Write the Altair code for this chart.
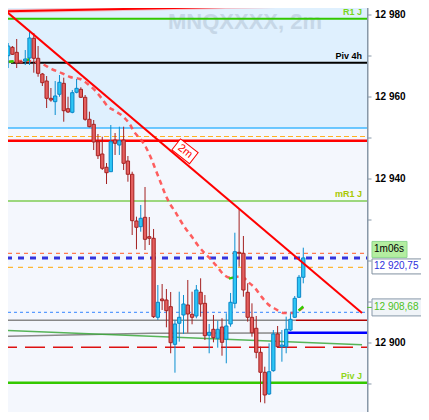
import altair as alt
import pandas as pd

# ---------------- data ----------------
opens = [12970.07, 12972.12, 12970.90, 12968.54, 12968.78, 12969.51, 12974.32, 12969.44, 12965.61, 12963.90,
         12959.68, 12958.86, 12960.66, 12963.34, 12957.15, 12956.27, 12961.15, 12961.88, 12959.93, 12954.56,
         12953.34, 12949.10, 12946.10, 12942.86, 12941.78, 12949.51, 12948.29, 12949.51, 12944.39, 12941.15,
         12929.76, 12928.37, 12930.66, 12925.93, 12925.54, 12906.27, 12910.73, 12910.49, 12908.86, 12899.68,
         12904.81, 12906.83, 12909.27, 12907.00, 12906.59, 12912.37, 12909.68, 12901.88, 12903.34, 12901.15,
         12903.90, 12900.90, 12904.64, 12909.68, 12922.12, 12921.88, 12912.37, 12906.27, 12903.59, 12897.73,
         12892.86, 12887.56, 12893.25, 12902.20, 12899.10, 12899.10, 12903.17, 12906.27, 12911.15, 12916.03]
closes = [12972.44, 12970.42, 12968.29, 12968.29, 12969.27, 12974.39, 12969.44, 12965.78, 12963.49, 12959.68,
          12959.27, 12960.25, 12963.59, 12956.66, 12956.34, 12961.05, 12962.12, 12959.93, 12954.56, 12952.76,
          12949.03, 12945.68, 12942.61, 12941.54, 12949.10, 12948.71, 12949.34, 12943.83, 12941.15, 12929.83,
          12928.22, 12930.42, 12925.29, 12925.54, 12906.42, 12909.93, 12910.32, 12907.88, 12900.07, 12904.64,
          12906.27, 12909.51, 12907.07, 12906.27, 12912.93, 12909.51, 12901.78, 12902.61, 12901.29, 12903.34,
          12900.17, 12904.15, 12909.93, 12922.27, 12921.88, 12912.93, 12906.27, 12902.51, 12897.73, 12892.86,
          12887.32, 12893.00, 12902.20, 12899.10, 12899.51, 12903.34, 12905.78, 12910.90, 12916.03, 12920.75]
highs = [12973.17, 12972.44, 12974.15, 12968.78, 12971.46, 12975.86, 12975.61, 12972.44, 12965.86, 12965.12,
         12962.20, 12963.90, 12965.37, 12964.71, 12960.07, 12961.71, 12964.39, 12962.37, 12960.49, 12956.42,
         12954.39, 12950.98, 12950.32, 12943.90, 12953.17, 12951.22, 12952.76, 12952.76, 12945.61, 12941.78,
         12930.81, 12933.66, 12938.05, 12930.73, 12927.81, 12914.15, 12914.39, 12913.17, 12912.44, 12905.61,
         12912.51, 12911.71, 12915.37, 12912.51, 12914.15, 12915.78, 12911.71, 12904.64, 12906.83, 12905.44,
         12906.03, 12907.25, 12912.20, 12926.90, 12932.61, 12926.10, 12914.56, 12909.68, 12906.59, 12899.10,
         12894.22, 12899.93, 12903.17, 12904.15, 12903.17, 12906.42, 12907.25, 12911.46, 12916.59, 12923.25]
lows = [12967.07, 12970.25, 12967.07, 12968.05, 12967.81, 12967.81, 12965.93, 12964.95, 12962.68, 12957.32,
        12958.86, 12955.61, 12960.07, 12953.98, 12956.10, 12956.03, 12960.90, 12959.76, 12954.22, 12952.61,
        12947.07, 12944.88, 12942.20, 12938.78, 12941.71, 12945.86, 12945.86, 12942.20, 12939.34, 12926.34,
        12922.86, 12927.15, 12922.68, 12923.90, 12906.10, 12905.61, 12908.05, 12903.83, 12897.49, 12892.76,
        12900.32, 12902.20, 12902.51, 12904.56, 12906.03, 12906.42, 12900.73, 12897.49, 12900.17, 12898.86,
        12896.90, 12895.05, 12903.98, 12908.46, 12918.61, 12911.29, 12905.20, 12901.54, 12896.27, 12885.54,
        12885.29, 12887.32, 12893.00, 12898.95, 12895.44, 12897.49, 12902.93, 12906.10, 12910.98, 12914.56]

# moving average (dashed curve), bar index / price
ma_x = [0, 4.3, 8, 10.2, 12.5, 14.5, 16.8, 18.6, 20.2, 21.8, 23.2, 25, 27, 28.4, 29.5, 31.1, 32.3, 33.4,
        34.5, 35.7, 36.8, 38, 39.1, 40.2, 41.4, 43, 44.3, 45.9, 47.5, 48.9, 50.5, 52.3, 54.5, 56.1, 57.7,
        59.1, 60.7, 62.5, 64.5, 66.4, 67.8, 69]
ma_y = [12968.54, 12968.78, 12968.05, 12966.83, 12965.85, 12964.88, 12964.39, 12963.17, 12961.71, 12959.76,
        12957.81, 12956.59, 12955.12, 12953.42, 12951.46, 12949.51, 12947.56, 12945.12, 12942.20, 12939.03,
        12936.10, 12933.66, 12931.95, 12930.00, 12928.05, 12925.85, 12923.90, 12921.95, 12920.25, 12918.54,
        12916.59, 12915.85, 12916.34, 12914.88, 12913.42, 12911.46, 12909.51, 12908.29, 12907.32, 12907.32,
        12907.80, 12908.68]
ma_green_x = [[0.2, 1.3], [3.9, 5.0], [51.6, 52.8], [67.9, 69.0]]
ma_green_y = [[12968.6, 12968.7], [12968.9, 12969.2], [12915.7, 12916.0], [12907.9, 12908.9]]

# drawn lines (bar index / price at both ends)
trend_x = [-0.68, 82.73]
trend_y = [12981.10, 12907.32]
red_top_x = [-0.68, 82.73]
red_top_y = [12980.90, 12982.61]
green_slant_x = [-0.68, 82.73]
green_slant_y = [12903.10, 12899.59]
gray_slant_x = [-0.68, 33.4, 63.9]
gray_slant_y = [12901.64, 12902.37, 12902.44]

# horizontal levels
level_values = [12982.76, 12979.10, 12968.37, 12952.44, 12950.37, 12949.34, 12934.64, 12921.88,
                12920.75, 12918.46, 12907.49, 12905.54, 12905.54, 12902.51, 12898.95, 12890.32]
label_texts = ["R1 J", "Piv 4h", "mR1 J", "Piv J"]
label_values = [12979.10, 12968.37, 12934.64, 12890.32]

# tick labels (12 920 is hidden behind the price badges in the reference)
axis_ticks = [12890, 12900, 12910, 12920, 12930, 12940, 12950, 12960, 12970, 12980]
axis_labels = ["", "12 900", "", "", "", "12 940", "", "12 960", "", "12 980"]
last_price = 12920.75
last_price_text = "12 920,75"
ma_last = 12908.68
ma_last_text = "12 908,68"
timer_text = "1m06s"
tag_text = "2m"
tag_price = 12946.76
watermark = "MNQXXXX, 2m"

# ---------------- chart ----------------
W, H = 359, 404
XS = alt.Scale(domain=[1.136, 82.727], nice=False, zero=False)
YS = alt.Scale(domain=[12883.17, 12981.71], nice=False, zero=False)
FONT = "Liberation Sans"


def xq(f):
    return alt.X(f, type="quantitative", scale=XS, axis=None)


def yq(f):
    return alt.Y(f, type="quantitative", scale=YS, axis=None)


one = pd.DataFrame({"k": [0]})
layers = []

# upper light-blue zone
layers.append(alt.Chart(pd.DataFrame({"p": [level_values[3]]})).mark_rect(color="#dff0fe").encode(
    x=alt.value(0), x2=alt.value(W), y=yq("p"), y2=alt.value(0)))

# watermark
layers.append(alt.Chart(one).mark_text(align="left", baseline="alphabetic", font=FONT,
                                       fontSize=22, fontWeight="bold", color="#c6d7e7").encode(
    x=alt.value(160), y=alt.value(21), text=alt.value(watermark)))

# horizontal level styles: color, width, dash, dash offset, x start, x end (pixels)
styles = [
    ("#ff0000", 2.5, None, 0, 0, W),
    ("#33c800", 2.0, None, 0, 0, W),
    ("#000000", 2.0, None, 0, 3, W),
    ("#40b8ff", 1.5, None, 0, 0, W),
    ("#ffb020", 1.2, [5, 3], 0, 0, W),
    ("#ff0000", 2.5, None, 0, 0, W),
    ("#44b800", 1.2, None, 0, 0, W),
    ("#ff7a50", 1.2, [4, 4], 0, 0, W),
    ("#3333dd", 3.0, [6, 6], 2, 0, W),
    ("#ffb733", 1.2, [5, 5], 0, 0, W),
    ("#5a9cff", 1.2, [3, 3], 0, 0, W),
    ("#888888", 1.5, None, 0, 0, 288),
    ("#b00000", 1.5, None, 0, 288, W),
    ("#0000ff", 2.5, None, 0, 276, W),
    ("#dd1111", 1.5, [20, 8], 11, 0, W),
    ("#33c800", 2.5, None, 0, 0, W),
]
for val, (col, sw, dash, off, a, b) in zip(level_values, styles):
    kw = dict(color=col, strokeWidth=sw, clip=True)
    if dash:
        kw["strokeDash"] = dash
        kw["strokeDashOffset"] = off
    layers.append(alt.Chart(pd.DataFrame({"p": [val]})).mark_rule(**kw).encode(
        y=yq("p"), x=alt.value(a), x2=alt.value(b)))


def seg(xv, yv, **kw):
    return alt.Chart(pd.DataFrame({"x": xv, "y": yv})).mark_line(clip=True, **kw).encode(
        x=xq("x"), y=yq("y"))


# slanted lines
layers.append(seg(red_top_x, red_top_y, color="#ff9aa0", strokeWidth=4, opacity=0.6))
layers.append(seg(red_top_x, red_top_y, color="#ff0000", strokeWidth=2))
layers.append(seg(gray_slant_x, gray_slant_y, color="#8a8a8a", strokeWidth=1.5))
layers.append(seg(green_slant_x, green_slant_y, color="#3aa83a", strokeWidth=1.5, opacity=0.85))

# moving average
layers.append(seg(ma_x, ma_y, color="#ff4d4d", strokeWidth=2.5, strokeDash=[5, 4], interpolate="monotone",
                  opacity=0.9))
for gx, gy in zip(ma_green_x, ma_green_y):
    layers.append(seg(gx, gy, color="#33cc00", strokeWidth=2.5))

# candles
df = pd.DataFrame({"i": list(range(len(opens))), "o": opens, "h": highs, "l": lows, "c": closes})
df["dir"] = ["up" if c >= o else "down" for o, c in zip(opens, closes)]
dirs = ["up", "down"]
layers.append(alt.Chart(df).mark_rule(strokeWidth=1, clip=True).encode(
    x=xq("i"), y=yq("l"), y2="h",
    color=alt.Color("dir:N", scale=alt.Scale(domain=dirs, range=["#0a8fd0", "#a32020"]), legend=None)))
layers.append(alt.Chart(df).mark_bar(size=3.3, strokeWidth=1, clip=True, opacity=1).encode(
    x=xq("i"), y=yq("o"), y2="c",
    fill=alt.Fill("dir:N", scale=alt.Scale(domain=dirs, range=["#2ec6f5", "#e45f5f"]), legend=None),
    stroke=alt.Stroke("dir:N", scale=alt.Scale(domain=dirs, range=["#0a87c8", "#a52222"]), legend=None)))

# trend line
layers.append(seg(trend_x, trend_y, color="#ff0000", strokeWidth=2))

# "2m" tag on the trend line
tag_df = pd.DataFrame({"p": [tag_price]})
layers.append(alt.Chart(tag_df).mark_point(shape="M-1.6,-1L1.6,-1L1.6,1L-1.6,1Z", size=196, angle=38,
                                           filled=True, fill="#ffffff", stroke="#ff0000", strokeWidth=1,
                                           opacity=1).encode(x=alt.value(177), y=yq("p")))
layers.append(alt.Chart(tag_df).mark_text(angle=38, fontSize=11, font=FONT, color="#ff0000",
                                          align="center", baseline="middle").encode(
    x=alt.value(177), y=yq("p"), text=alt.value(tag_text)))

# level labels
label_colors = ["#77d61a", "#000000", "#a8c800", "#8ed61a"]
for t, v, col in zip(label_texts, label_values, label_colors):
    layers.append(alt.Chart(pd.DataFrame({"p": [v], "t": [t]})).mark_text(
        align="right", baseline="bottom", dy=-1.5, font=FONT, fontSize=9, fontWeight="bold", color=col).encode(
        x=alt.value(354), y=yq("p"), text="t:N"))

# right price axis (domain line, ticks, labels)
ax_df = pd.DataFrame({"p": axis_ticks, "t": axis_labels})
layers.append(alt.Chart(one).mark_rule(color="#8898a8", strokeWidth=1.5).encode(
    x=alt.value(W + 0.75), y=alt.value(0), y2=alt.value(H)))
layers.append(alt.Chart(ax_df).mark_rule(color="#8898a8", strokeWidth=1).encode(
    y=yq("p"), x=alt.value(W), x2=alt.value(W + 4.5)))
layers.append(alt.Chart(ax_df).mark_text(align="left", baseline="middle", font=FONT, fontSize=10,
                                         fontWeight="bold", color="#000000").encode(
    x=alt.value(W + 8), y=yq("p"), text="t:N"))

# small axis tick at MA value
layers.append(alt.Chart(pd.DataFrame({"p": [ma_last]})).mark_rule(color="#55bb33", strokeWidth=1).encode(
    y=yq("p"), x=alt.value(W), x2=alt.value(W + 5)))


# right-side badges
def badge(price, text, half_w, half_h, cx, off, fill, stroke, tcol, tsize):
    d = pd.DataFrame({"p": [price]})
    r = half_h
    hw = half_w / r
    path = f"M-{hw:.3f},-1L{hw:.3f},-1L{hw:.3f},1L-{hw:.3f},1Z"
    box = alt.Chart(d).mark_point(shape=path, size=(2 * r) ** 2, filled=True, fill=fill, stroke=stroke,
                                  strokeWidth=1, opacity=1, yOffset=off).encode(
        x=alt.value(cx), y=yq("p"))
    txt = alt.Chart(d).mark_text(align="left", baseline="middle", dy=off, font=FONT, fontSize=tsize,
                                 color=tcol).encode(
        x=alt.value(W + 7), y=yq("p"), text=alt.value(text))
    return [box, txt]


layers += badge(last_price, timer_text, 17.5, 8.0, 381.5, -8.5, "#b4eea0", "#8fd88f", "#000000", 10)
layers += badge(last_price, last_price_text, 30, 7.5, 394, 8.5, "#ffffff", "#8090a0", "#2f2fdc", 10)
layers += badge(ma_last, ma_last_text, 27.5, 8.5, 391.5, 0, "#f0f4f8", "#8899aa", "#4cc222", 10)

chart = alt.layer(*layers).properties(
    width=W, height=H,
    padding={"left": 0, "top": 0, "right": 54, "bottom": 0},
    autosize=alt.AutoSizeParams(type="none"),
    background="#ffffff",
).configure_view(fill="#f4f7fd", strokeWidth=0)

chart.save("out.html", embed_options={"renderer": "svg", "actions": False})
